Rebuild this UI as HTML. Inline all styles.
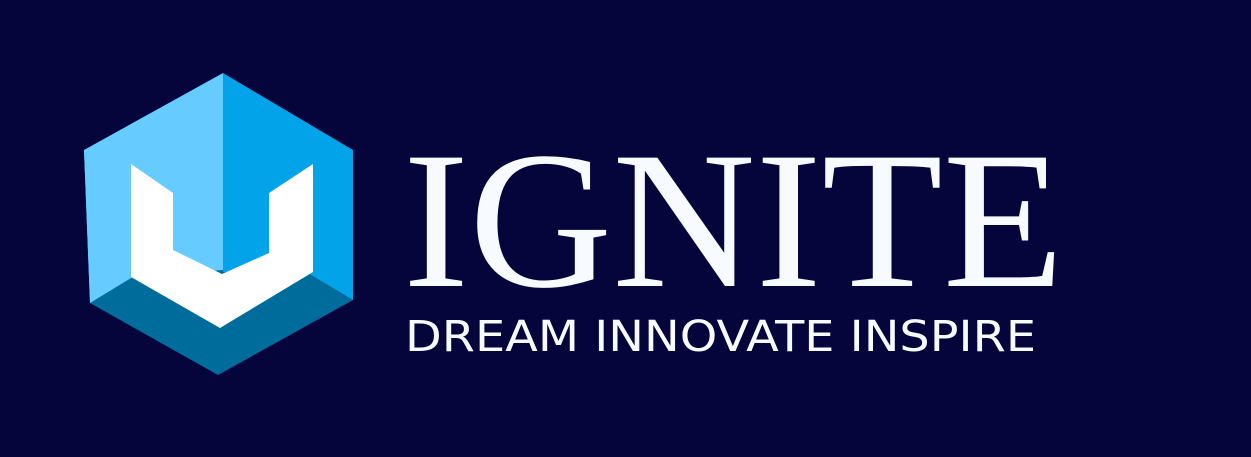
<!DOCTYPE html>
<html><head><meta charset="utf-8"><style>
html,body{margin:0;padding:0;background:#05053c;}
svg{display:block}
</style></head><body>
<svg width="1251" height="457" viewBox="0 0 1251 457" xmlns="http://www.w3.org/2000/svg">
<rect x="0" y="0" width="1251" height="457" fill="#05053c"/>
<g>
<polygon points="223,73 84,150 90,303 223,225" fill="#66ccff"/>
<polygon points="223,73 353,150 353,300 223,225" fill="#02a3e8"/>
<polygon points="90,303 223,222 353,300 218,375" fill="#006c9c"/>
<polygon points="84,150 223,150 223,270 131,277 90,303" fill="#66ccff"/>
<polygon points="223,150 353,150 353,300 313,272 223,272" fill="#02a3e8"/>
<polygon points="131,164 173,193 173,250 222,274 269,253 269,193 313,164 313,272 220,328 131,277" fill="#ffffff"/>
</g>
<text x="403" y="286" font-family="Liberation Serif, serif" font-size="196" fill="#f7faff" textLength="661" lengthAdjust="spacingAndGlyphs">IGNITE</text>
<text x="405" y="351" font-family="DejaVu Sans, Liberation Sans, sans-serif" font-size="43" fill="#f7faff" textLength="631" lengthAdjust="spacingAndGlyphs">DREAM INNOVATE INSPIRE</text>
</svg>
</body></html>
